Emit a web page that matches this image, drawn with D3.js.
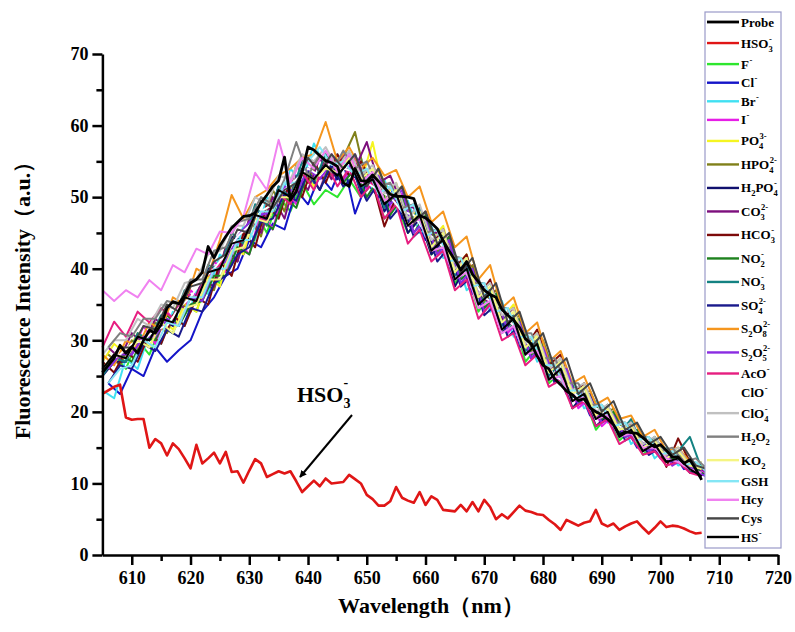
<!DOCTYPE html>
<html>
<head>
<meta charset="utf-8">
<script src="https://cdn.jsdelivr.net/npm/d3@7"></script>
<style>
  html, body { margin: 0; padding: 0; background: #fff; }
  svg { display: block; }
  text { font-family: "Liberation Serif", "Times New Roman", serif; font-weight: bold; }
</style>
</head>
<body>
<svg id="chart" width="795" height="632"></svg>
<script>
// Emission spectra of the probe with various analytes (wavelength in nm)
const wavelength1 = d3.range(605, 708, 1);   // 1 nm sampling
const wavelengthOdd = d3.range(605, 708, 2);   // 2 nm sampling, odd grid
const wavelengthEven = d3.range(606, 709, 2);  // 2 nm sampling, even grid

const probe = [
  25.5, 26.5, 27.5, 29.3, 28.2, 29.1, 28.2, 30.0, 31.4, 31.0,
  32.2, 34.5, 35.4, 35.1, 36.3, 38.0, 38.5, 39.5, 43.1, 41.5,
  43.2, 44.5, 45.7, 46.5, 47.3, 47.4, 47.8, 49.2, 50.3, 51.5,
  52.3, 55.6, 49.6, 50.8, 53.5, 57.0, 56.6, 55.8, 55.1, 54.8,
  54.3, 52.0, 51.5, 54.0, 52.3, 52.2, 53.1, 52.2, 51.3, 50.4,
  50.1, 50.1, 50.0, 49.8, 47.4, 47.1, 46.4, 45.6, 43.9, 42.5,
  41.2, 39.8, 41.0, 39.2, 38.2, 37.0, 36.4, 36.0, 34.3, 33.5,
  32.8, 31.8, 30.2, 29.5, 27.8, 26.5, 26.0, 24.6, 23.8, 22.9,
  22.4, 21.6, 21.8, 20.6, 20.0, 19.6, 19.0, 18.2, 16.8, 17.2,
  17.1, 17.0, 16.4, 15.6, 15.1, 15.4, 14.6, 13.7, 13.7, 12.8,
  13.3, 12.0, 10.5
];

const hso3 = [
  22.5, 23.0, 23.5, 23.8, 19.2, 18.9, 19.0, 19.0, 15.0, 16.2,
  15.6, 13.9, 15.6, 14.8, 13.5, 12.1, 15.4, 12.8, 13.5, 14.3,
  12.8, 14.4, 11.6, 11.7, 10.1, 11.8, 13.4, 12.8, 10.9, 11.3,
  11.7, 11.4, 11.7, 10.3, 8.8, 9.6, 10.4, 9.6, 10.7, 10.0,
  10.1, 10.2, 11.2, 10.6, 10.0, 8.4, 7.8, 6.9, 6.9, 7.5,
  9.5, 8.0, 7.6, 7.3, 8.8, 7.0, 8.2, 7.7, 6.3, 6.2,
  6.1, 7.0, 6.1, 7.4, 6.1, 7.7, 6.7, 5.0, 5.7, 5.1,
  6.0, 6.9, 6.2, 6.0, 5.7, 5.6, 4.9, 4.3, 3.5, 4.9,
  4.5, 4.1, 4.5, 4.7, 6.3, 4.4, 4.0, 4.4, 3.5, 4.0,
  4.4, 4.7, 3.8, 3.0, 3.8, 4.7, 3.9, 4.1, 4.0, 3.7,
  3.3, 3.0, 3.1
];

const fluoride = [25,28,26,30,28,32,31,35,34,39, 38,44,42,48,45,50,48,52,49,51, 50,52.5,50,52,47,49,45,47,42,43.5, 38,40,34,36.5,31,33,27,29,24,25.5, 20.5,22,17.5,19.5,16,17.5,14,15.5,13,14, 11.5,12.5];
const chloride = [24,22.5,26,25,29,27,28.6,30,34,36, 39,40,44,43,46.3,45.5,51,49,53,51, 55,47.7,52,50,51.5,47,48,44,45,40.5, 41,36.5,37.5,33,34,29,30,26,26.5,22.5, 23.5,19.5,20.5,17.5,18,15,16,13.5,14.5,12, 12.5,11];
const bromide = [23,21.9,27.5,26,31,29.5,34,32,37,36.5, 42,40.5,46,44,50,48.5,54,52,57.5,54, 56,53,55.5,51,52.5,48,49.5,45,46,41.5, 42,37,38.5,34,35.5,30.5,31.5,27,28,24, 24.5,20.5,21.5,18.5,19.5,15.5,17,13.5,15,12.5, 13,11.5];
const iodide = [27,29,28,32,29.5,34,32,37,35.5,41, 39.5,44,42,48,45.5,51.5,49,54,51,56, 52,55.5,51,54,48.5,50.5,46,48,43,44.5, 39,40.5,34.5,36,31,33,27.5,29.5,24,25.5, 20.5,22,18,19.5,16.5,17.5,14,15.5,12.5,14, 12.5,11];
const phosphate = [27,29.5,28,31,29,33,31.5,35,34,39, 37.5,43.5,42,48,46,51,49.5,54,51.5,56, 53,55.5,52,57.7,50,52,47,48.5,44,46, 40,42,36.5,38,33,35,29,31,26,27.5, 22.5,24,19.5,21,17,18.5,15,16.5,14,15, 12.5,13];
const hydrogenPhosphate = [28,26.5,30,29,32.5,31,35.5,34,38.5,37, 43,41,47,44.5,51,48,54.5,52,56,53, 55.5,59.1,52,54,50,51.5,46,48,42.5,44, 39,40.5,35.5,37,32,33.5,28.5,30,25,26, 21.5,23,19,20.5,16.5,17.5,14.5,15.5,13,14, 12,12.5];
const dihydrogenPhosphate = [25,27,27,30.5,30,33,32,36.5,35.5,40, 40.5,44.5,43.5,48.5,46.5,51.5,50,54,52.5,55, 52.5,56,50.5,53.5,48,50.5,45,47,42,44, 37.5,40.5,35,37,31,33,28,30,24.5,26, 20.5,22.5,18,19.5,16.5,18,14.5,15.5,13,14, 11.5,12];
const carbonate = [29,27.5,31,29.5,33,31.5,35,34,38.5,37.5, 43,41,47,45,50,47,53,51,55.5,52.5, 56,54,57.7,52,53,49,48.5,45.5,45,42, 40.5,37.5,36,34,33,30.5,29.5,27,26,23.5, 23,20.5,19.5,18,17.5,16,15,14,13.5,12.5, 12.5,11.5];
const bicarbonate = [27,25.5,28.5,27,31,29.5,33.5,32,36,35, 41,39,45,43,49,47,52.5,50,55,52, 56,53,55,52,45.9,50,46.5,48,43.5,45.5, 40,42,36,38.5,33,34.5,29,31.5,26.5,28, 22.5,24,19.5,21,17,18.5,15,16,12.3,16.3, 13,12];
const nitrite = [26,28,27,30.5,30,33.5,32,35,35.5,39, 39,43,42,47,45.5,50,48.5,53.5,51,55, 52,54,50,52.5,47.5,50,45,47.5,42,44.5, 38.5,40,34.5,36.5,31.5,33,28,29.5,24.5,26, 21.5,22.5,19,20,16.5,17.5,14.5,15.5,13.5,14, 12,11];
const nitrate = [25,27.5,27,31,30,33.5,32.5,37,35.5,40.5, 40,45,43.5,49,46,51.5,50,55,52,56, 53,55,51,53.5,48.5,51,46,48.5,43,45, 39,41,35,37,32,33.5,28.5,30,25,27, 22,23.5,19.5,21,17,19,15,16.5,14,14.5, 16.5,12];
const sulfate = [24,26.5,26,29.5,28.5,31.5,30.5,34.5,34,38, 39,42,43,46.5,47,50.5,49.5,53.5,51,54.5, 51.5,53,49.5,52,47,49,44.5,46,41,43, 37.5,39,33.5,35,30.5,32,27.5,29,24,25.5, 21,22.5,18.5,19.5,16,17,14,15,13,13.5, 11.5,11];
const persulfate = [28,26.5,30,29,32.5,31.5,36,35,40,39, 44,50.3,47,50,51,53,54,55.5,56,60.5, 55,57,54,55.5,53,53.8,50,51.5,46.5,48, 43,44.5,38.5,40.5,34.5,36,31,32.5,27,28.5, 24,25,21,22,19,19.5,16.5,17.5,14.5,15, 13,12];
const metabisulfite = [26,28,28,30.5,30.5,33,32,36,35.5,40, 41,44.5,46.5,47.5,48,51.5,50.5,54,52.5,55, 52.5,56,52,53,49,51,45,47,42,44, 38,40,34,36,31.5,32.5,27.5,29,24.5,26, 21,22,18.5,19.5,16.5,17,14.5,15.5,12.5,13.5, 11.5,11];
const acetate = [29,32.6,30.5,34,32.5,34.5,33,36.5,36,39.5, 40.5,43.5,44,47.5,46.5,50.5,49,53.5,51,55, 51.5,54,50,52,47,49,43.5,45.5,41,42.5, 37,38.5,33,35,30,31,26.5,28,23.5,24.5, 20.5,21.5,18,19,15.5,16.5,14,14.5,12.5,13, 11.5,11];
const hypochlorite = [27,28,29.5,30,31.5,32,34.5,36,38.5,40, 42,44.5,46,48,49,51,52.5,54,53,55, 54,53.5,52,51,50,48,47.5,45,44,42, 40,38.5,36,35,33,31,29,27.5,25,24, 22,21,20,18.5,17.5,16.5,15.5,14.5,14,13, 12.5,12];
const perchlorate = [28,30,30,33,32,35,34.5,38,38.5,42, 42.5,46,46,50,49,53,52.5,56,55,57, 54,56.5,53,54.5,50.5,52,47,49,44,45.5, 40,41.5,36.5,38,33.5,34.5,29.5,31,26,27.5, 23,24,20,21,17.5,18.5,15.5,16.5,14,15, 12.5,13];
const peroxide = [29,31,30.5,33,33,35.5,35,38.5,38.5,42.5, 43,46.5,47,50,49,52.5,57.7,53,56,53.5, 56.5,54,55,51.5,52,48.5,49,45,45.5,42, 41.5,38,38,34.5,34.5,31,31,27.5,27.5,24, 24,21,21,18.5,18.5,16.5,16.5,14.5,15,13, 13.5,12];
const superoxide = [26,28,27.5,30,29,32.5,31,34.5,35,38.5, 38.5,42.5,43,47,46.5,50,50,53.5,52.5,54, 53.5,55.5,52.5,54,49.5,51,46,48,43,45, 39.5,41.5,36,37.5,32.5,34,29,30.5,25.5,27, 22.5,23.5,19.5,20.5,17.5,18,15,16,13.5,14.5, 12.5,12];
const glutathione = [24,26,26.5,30,29,32.5,32,36,36,40, 40,44,44,48,48,52,52,55,57,54.5, 55,53,54,50.5,51.5,48,49,44.5,45.5,41, 41.5,37.5,38,34,34.5,30.5,30.5,26.5,26.5,23, 23,20.5,21,18,18.5,16,16.5,14,14.5,12.5, 13,11.5];
const homocysteine = [37,35.5,37,36,38.4,37,40.5,39.5,42.8,42, 45.2,45,47.3,53.4,51,58,52,55.5,54,56.5, 53.5,56,52,53.5,49.5,50.5,46,47,42.5,43, 38.5,39.5,34.5,35.5,31,32,28,28.5,24.5,25, 21.5,22,19,19.5,16.5,17,15,15,13.5,13, 12,11.5];
const cysteine = [27,29,29,32,31.5,35,34,37.5,38,41, 42,45.5,45,49.5,48.5,51,52,55.5,53.5,56, 54,56,51.5,54,49.5,51.5,46.5,48,43.5,45, 39.5,41.5,36,38,32.5,34,29,31,26,27.5, 22.5,24,20,21.5,17.5,18.5,15.5,16.5,14,15, 12.5,12];
const hydrosulfide = [26,28,27.5,30.5,30,33,32.5,36,35.5,39.5, 40,43.5,44,47.5,47,51,50,53.5,52.5,54.5, 53,55,51.5,52.5,49,50.5,46,47.5,42.5,44, 38.5,40,35,36.5,31.5,33,28,29.5,24.5,26, 21.5,22.5,19,20,16.5,17.5,14.5,15.5,13,13.5, 12,11];

// Legend labels: [text, "sub" | "sup"] pieces
const legendLabels = [
  [["Probe"]],
  [["HSO"], ["3", "sub"], ["-", "sup"]],
  [["F"], ["-", "sup"]],
  [["Cl"], ["-", "sup"]],
  [["Br"], ["-", "sup"]],
  [["I"], ["-", "sup"]],
  [["PO"], ["4", "sub"], ["3-", "sup"]],
  [["HPO"], ["4", "sub"], ["2-", "sup"]],
  [["H"], ["2", "sub"], ["PO"], ["4", "sub"], ["-", "sup"]],
  [["CO"], ["3", "sub"], ["2-", "sup"]],
  [["HCO"], ["3", "sub"], ["-", "sup"]],
  [["NO"], ["2", "sub"], ["-", "sup"]],
  [["NO"], ["3", "sub"], ["-", "sup"]],
  [["SO"], ["4", "sub"], ["2-", "sup"]],
  [["S"], ["2", "sub"], ["O"], ["8", "sub"], ["2-", "sup"]],
  [["S"], ["2", "sub"], ["O"], ["5", "sub"], ["2-", "sup"]],
  [["AcO"], ["-", "sup"]],
  [["ClO"], ["-", "sup"]],
  [["ClO"], ["4", "sub"], ["-", "sup"]],
  [["H"], ["2", "sub"], ["O"], ["2", "sub"]],
  [["KO"], ["2", "sub"]],
  [["GSH"]],
  [["Hcy"]],
  [["Cys"]],
  [["HS"], ["-", "sup"]]
];

const legendColors = [
  "#000000", "#e01616", "#2ee62e", "#1414c8", "#40e0f2", "#e61ee6", "#f5f522",
  "#80801a", "#10106e", "#7d0f7d", "#7d0a0a", "#1e821e", "#148282", "#1a1a8c",
  "#f5961e", "#8a2be2", "#e61e80", "#ffffff", "#c0c0c0", "#808080", "#f5f582",
  "#84e6f5", "#f082f0", "#464646", "#000000"
];

// Each analyte spectrum with the wavelength grid it was recorded on
const analyteValues = [
  fluoride, chloride, bromide, iodide, phosphate, hydrogenPhosphate,
  dihydrogenPhosphate, carbonate, bicarbonate, nitrite, nitrate, sulfate,
  persulfate, metabisulfite, acetate, hypochlorite, perchlorate, peroxide,
  superoxide, glutathione, homocysteine, cysteine, hydrosulfide
];
const analyteGrids = [
  wavelengthOdd, wavelengthEven, wavelengthOdd, wavelengthEven, wavelengthOdd, wavelengthEven,
  wavelengthOdd, wavelengthEven, wavelengthOdd, wavelengthEven, wavelengthOdd, wavelengthEven,
  wavelengthOdd, wavelengthEven, wavelengthOdd, wavelengthEven, wavelengthOdd, wavelengthEven,
  wavelengthOdd, wavelengthEven, wavelengthOdd, wavelengthEven, wavelengthOdd
];

const xTicks = [610, 620, 630, 640, 650, 660, 670, 680, 690, 700, 710, 720];
const yTicks = [0, 10, 20, 30, 40, 50, 60, 70];

const svg = d3.select("#chart");
const x = d3.scaleLinear().domain([605, 720]).range([102.4, 778]);
const y = d3.scaleLinear().domain([0, 70]).range([555, 54]);

const spectrum = d3.line()
  .defined(d => d[1] != null)
  .x(d => x(d[0]))
  .y(d => y(d[1]));
const pairs = (xs, vals) => xs.map((w, i) => [w, vals[i]]);

// Spectra
const plot = svg.append("g");
analyteValues.forEach((vals, k) => {
  plot.append("path")
    .attr("d", spectrum(pairs(analyteGrids[k], vals)))
    .attr("fill", "none")
    .attr("stroke", legendColors[k + 2])
    .attr("stroke-width", 2)
    .attr("stroke-linejoin", "round");
});
plot.append("path")
  .attr("d", spectrum(pairs(wavelength1, hso3)))
  .attr("fill", "none").attr("stroke", legendColors[1])
  .attr("stroke-width", 2.6).attr("stroke-linejoin", "round");
plot.append("path")
  .attr("d", spectrum(pairs(wavelength1, probe)))
  .attr("fill", "none").attr("stroke", legendColors[0])
  .attr("stroke-width", 2.8).attr("stroke-linejoin", "round");

// Axes
function styleAxis(g) {
  g.select(".domain").attr("stroke", "#000").attr("stroke-width", 2.5);
  g.selectAll(".tick line").attr("stroke", "#000").attr("stroke-width", 2.5);
  g.selectAll(".tick text")
    .attr("fill", "#000")
    .style("font-family", '"Liberation Serif", "Times New Roman", serif')
    .style("font-weight", "bold")
    .style("font-size", "18px");
}

const xMinor = d3.range(615, 720, 10);
const yMinor = d3.range(5, 70, 10);

svg.append("g").attr("transform", `translate(0,${y(0)})`)
  .call(d3.axisBottom(x).tickValues(xMinor).tickSize(6).tickFormat(""))
  .call(g => { g.select(".domain").remove(); g.selectAll(".tick line").attr("stroke", "#000").attr("stroke-width", 2.5); });
svg.append("g").attr("transform", `translate(0,${y(0)})`)
  .call(d3.axisBottom(x).tickValues(xTicks).tickSize(10).tickSizeOuter(0).tickPadding(6).tickFormat(d3.format("d")))
  .call(styleAxis);

svg.append("g").attr("transform", `translate(${x(605)},0)`)
  .call(d3.axisLeft(y).tickValues(yMinor).tickSize(6).tickFormat(""))
  .call(g => { g.select(".domain").remove(); g.selectAll(".tick line").attr("stroke", "#000").attr("stroke-width", 2.5); });
svg.append("g").attr("transform", `translate(${x(605)},0)`)
  .call(d3.axisLeft(y).tickValues(yTicks).tickSize(10).tickSizeOuter(0).tickPadding(4).tickFormat(d3.format("d")))
  .call(styleAxis);

// Axis titles
svg.append("text")
  .attr("x", 431).attr("y", 613)
  .attr("text-anchor", "middle")
  .style("font-size", "22px")
  .text("Wavelength（nm）");

svg.append("text")
  .attr("transform", "translate(30,295) rotate(-90)")
  .attr("text-anchor", "middle")
  .style("font-size", "22px")
  .text("Fluorescence Intensity（a.u.）");

// Annotation for the bisulfite trace
const ann = svg.append("text").attr("x", 297).attr("y", 402).style("font-size", "22px");
ann.append("tspan").text("HSO");
ann.append("tspan").attr("dy", 6).style("font-size", "14px").text("3");
ann.append("tspan").attr("dx", -7).attr("dy", -21).style("font-size", "14px").text("-");

svg.append("defs").append("marker")
  .attr("id", "arrow").attr("viewBox", "0 0 10 10")
  .attr("refX", 9).attr("refY", 5)
  .attr("markerWidth", 7).attr("markerHeight", 7)
  .attr("markerUnits", "userSpaceOnUse")
  .attr("orient", "auto")
  .append("path").attr("d", "M0,0 L10,5 L0,10 Z").attr("fill", "#000");
svg.append("line")
  .attr("x1", 352).attr("y1", 415).attr("x2", 300).attr("y2", 477)
  .attr("stroke", "#000").attr("stroke-width", 2)
  .attr("marker-end", "url(#arrow)");

// Legend
const legend = svg.append("g");
legend.append("rect")
  .attr("x", 705).attr("y", 12).attr("width", 76).attr("height", 536)
  .attr("fill", "#fff").attr("stroke", "#9a9ac8").attr("stroke-width", 1.2);

const hasSub = legendLabels.map(parts => parts.some(p => p[1] === "sub"));
let rowY = 22;
legendLabels.forEach((parts, i) => {
  if (i > 0) rowY += (hasSub[i - 1] ? 23.5 : 18.6) / 2 + (hasSub[i] ? 23.5 : 18.6) / 2;
  legend.append("line")
    .attr("x1", 707).attr("x2", 739).attr("y1", rowY).attr("y2", rowY)
    .attr("stroke", legendColors[i]).attr("stroke-width", i === 0 ? 2.8 : 2.4);
  let cx = 741, subX = null, subW = 0;
  const base = rowY + 4.5;
  parts.forEach(([t, kind]) => {
    const el = legend.append("text").text(t);
    if (kind === "sub") {
      el.attr("x", cx).attr("y", base + 4).style("font-size", "8.5px");
      subX = cx; subW = el.node().getComputedTextLength();
      cx += subW;
    } else if (kind === "sup") {
      const sx = subX !== null ? subX : cx;
      el.attr("x", sx + 0.5).attr("y", base - 6).style("font-size", "8.5px");
      const w = el.node().getComputedTextLength();
      cx = Math.max(cx, sx + w);
      subX = null;
    } else {
      el.attr("x", cx).attr("y", base).style("font-size", "13px");
      cx += el.node().getComputedTextLength();
      subX = null;
    }
  });
});
</script>
</body>
</html>
